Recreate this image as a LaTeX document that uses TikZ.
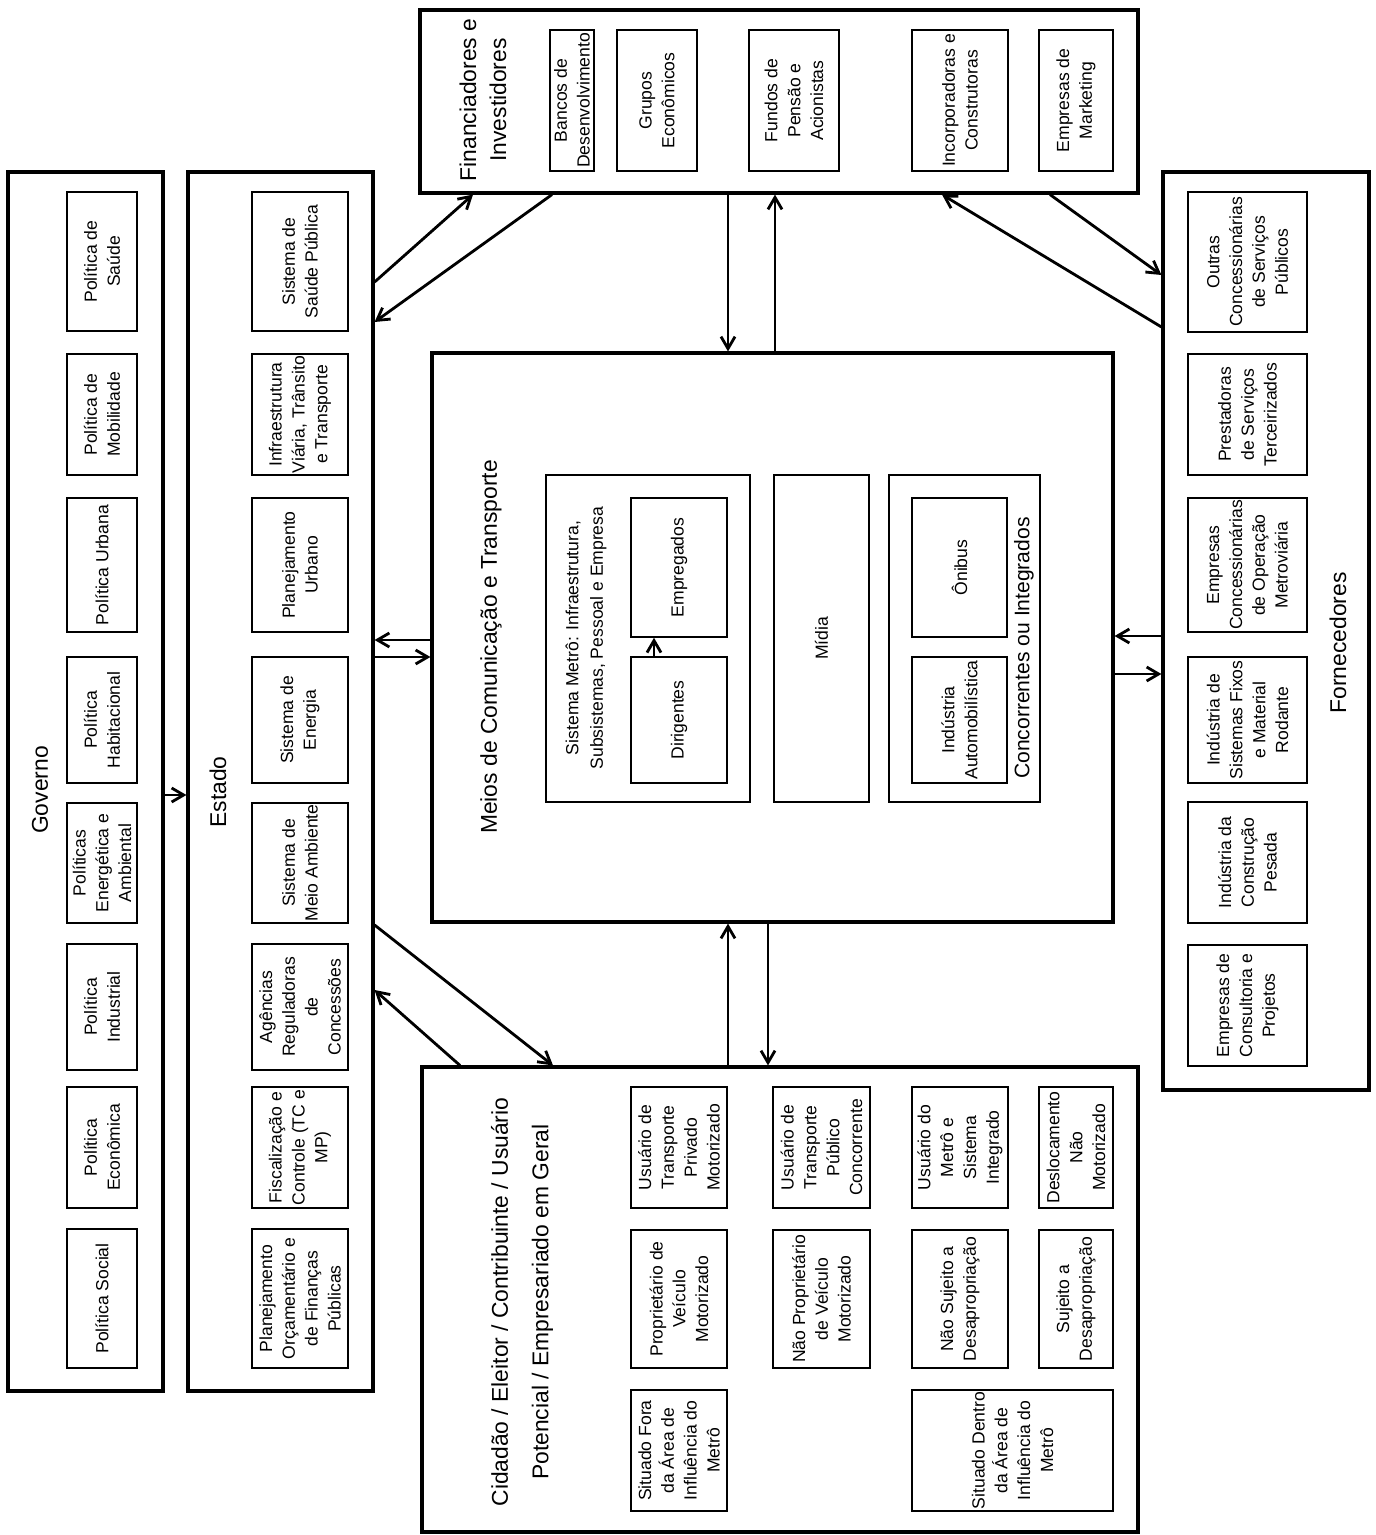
\documentclass[tikz,border=0pt]{standalone}
\usepackage{fontspec}
\setmainfont{Liberation Sans}
\usetikzlibrary{fit, arrows.meta}

\begin{document}
\begin{tikzpicture}[x=0.2mm, y=-0.2mm,
    bigbox/.style={draw, line width=1.8pt, inner sep=0pt},
    sbox/.style={draw, line width=0.9pt, inner sep=0pt},
    txt/.style={rotate=90, align=center, inner sep=0pt, font=\fontsize{10}{13}\selectfont},
    ttl/.style={rotate=90, align=center, font=\fontsize{13}{17}\selectfont},
    arr/.style={-{Straight Barb[length=2.4mm, width=2.8mm]}, line width=1.6pt}]
    \useasboundingbox (0,0) rectangle (1375,1535);

    % Governo
    \node[bigbox, fit={(8,172) (163,1391)}] (gov) {};
    \node[ttl] (govt) at (40,790) {Governo};
    \node[sbox, fit={(67,192) (137,331)}] (g1) {};   \node[txt] at (g1) {Política de\\Saúde};
    \node[sbox, fit={(67,354) (137,475)}] (g2) {};   \node[txt] at (g2) {Política de\\Mobilidade};
    \node[sbox, fit={(67,498) (137,632)}] (g3) {};   \node[txt] at (g3) {Política Urbana};
    \node[sbox, fit={(67,657) (137,783)}] (g4) {};   \node[txt] at (g4) {Política\\Habitacional};
    \node[sbox, fit={(67,803) (137,923)}] (g5) {};   \node[txt] at (g5) {Políticas\\Energética e\\Ambiental};
    \node[sbox, fit={(67,944) (137,1070)}] (g6) {};  \node[txt] at (g6) {Política\\Industrial};
    \node[sbox, fit={(67,1087) (137,1208)}] (g7) {}; \node[txt] at (g7) {Política\\Econômica};
    \node[sbox, fit={(67,1229) (137,1368)}] (g8) {}; \node[txt] at (g8) {Política Social};

    % Estado
    \node[bigbox, fit={(188,172) (373,1391)}] (est) {};
    \node[ttl] (estt) at (218,792) {Estado};
    \node[sbox, fit={(252,192) (348,331)}] (e1) {};   \node[txt] at (e1) {Sistema de\\Saúde Pública};
    \node[sbox, fit={(252,354) (348,475)}] (e2) {};   \node[txt] at (e2) {Infraestrutura\\Viária, Trânsito\\e Transporte};
    \node[sbox, fit={(252,498) (348,632)}] (e3) {};   \node[txt] at (e3) {Planejamento\\Urbano};
    \node[sbox, fit={(252,657) (348,783)}] (e4) {};   \node[txt] at (e4) {Sistema de\\Energia};
    \node[sbox, fit={(252,803) (348,923)}] (e5) {};   \node[txt] at (e5) {Sistema de\\Meio Ambiente};
    \node[sbox, fit={(252,944) (348,1070)}] (e6) {};  \node[txt] at (e6) {Agências\\Reguladoras\\de\\Concessões};
    \node[sbox, fit={(252,1087) (348,1208)}] (e7) {}; \node[txt] at (e7) {Fiscalização e\\Controle (TC e\\MP)};
    \node[sbox, fit={(252,1229) (348,1368)}] (e8) {}; \node[txt] at (e8) {Planejamento\\Orçamentário e\\de Finanças\\Públicas};

    % Financiadores e Investidores
    \node[bigbox, fit={(420,10) (1138,193)}] (fin) {};
    \node[ttl] (fint) at (483,100) {Financiadores e\\Investidores};
    \node[sbox, fit={(550,30) (594,171)}] (f1) {};   \node[txt] at (f1) {Bancos de\\Desenvolvimento};
    \node[sbox, fit={(617,30) (697,171)}] (f2) {};   \node[txt] at (f2) {Grupos\\Econômicos};
    \node[sbox, fit={(749,30) (839,171)}] (f3) {};   \node[txt] at (f3) {Fundos de\\Pensão e\\Acionistas};
    \node[sbox, fit={(912,30) (1008,171)}] (f4) {};  \node[txt] at (f4) {Incorporadoras e\\Construtoras};
    \node[sbox, fit={(1039,30) (1113,171)}] (f5) {}; \node[txt] at (f5) {Empresas de\\Marketing};

    % Fornecedores
    \node[bigbox, fit={(1163,172) (1369,1090)}] (forn) {};
    \node[ttl] (fornt) at (1338,643) {Fornecedores};
    \node[sbox, fit={(1188,192) (1307,332)}] (p1) {};  \node[txt] at (p1) {Outras\\Concessionárias\\de Serviços\\Públicos};
    \node[sbox, fit={(1188,354) (1307,475)}] (p2) {};  \node[txt] at (p2) {Prestadoras\\de Serviços\\Terceirizados};
    \node[sbox, fit={(1188,498) (1307,632)}] (p3) {};  \node[txt] at (p3) {Empresas\\Concessionárias\\de Operação\\Metroviária};
    \node[sbox, fit={(1188,657) (1307,783)}] (p4) {};  \node[txt] at (p4) {Indústria de\\Sistemas Fixos\\e Material\\Rodante};
    \node[sbox, fit={(1188,802) (1307,923)}] (p5) {};  \node[txt] at (p5) {Indústria da\\Construção\\Pesada};
    \node[sbox, fit={(1188,945) (1307,1066)}] (p6) {}; \node[txt] at (p6) {Empresas de\\Consultoria e\\Projetos};

    % Meios de Comunicacao e Transporte
    \node[bigbox, fit={(432,353) (1113,922)}] (meios) {};
    \node[ttl] (meiost) at (491,647) {Meios de Comunicação e Transporte};
    \node[sbox, fit={(546,475) (750,802)}] (metro) {};
    \node[txt, font=\fontsize{10}{14}\selectfont] (metrot) at (586,638)
        {Sistema Metrô: Infraestrutura,\\Subsistemas, Pessoal e Empresa};
    \node[sbox, fit={(631,498) (727,637)}] (emp) {};   \node[txt] at (emp) {Empregados};
    \node[sbox, fit={(631,657) (727,783)}] (dir) {};   \node[txt] at (dir) {Dirigentes};
    \node[sbox, fit={(774,475) (869,802)}] (midia) {}; \node[txt] at (midia) {Mídia};
    \node[sbox, fit={(889,475) (1040,802)}] (conc) {};
    \node[sbox, fit={(912,498) (1007,637)}] (onib) {}; \node[txt] at (onib) {Ônibus};
    \node[sbox, fit={(912,657) (1007,783)}] (auto) {}; \node[txt] at (auto) {Indústria\\Automobilística};
    \node[rotate=90, font=\fontsize{12}{14}\selectfont] (conct) at (1024,648) {Concorrentes ou Integrados};

    % Cidadao
    \node[bigbox, fit={(422,1067) (1138,1532)}] (cid) {};
    \node[ttl, font=\fontsize{13}{23}\selectfont] (cidt) at (522,1302)
        {Cidadão / Eleitor / Contribuinte / Usuário\\Potencial / Empresariado em Geral};
    \node[sbox, fit={(631,1087) (727,1208)}] (c1) {};   \node[txt] at (c1) {Usuário de\\Transporte\\Privado\\Motorizado};
    \node[sbox, fit={(631,1230) (727,1368)}] (c2) {};   \node[txt] at (c2) {Proprietário de\\Veículo\\Motorizado};
    \node[sbox, fit={(631,1390) (727,1511)}] (c3) {};   \node[txt] at (c3) {Situado Fora\\da Área de\\Influência do\\Metrô};
    \node[sbox, fit={(773,1087) (870,1208)}] (c4) {};   \node[txt] at (c4) {Usuário de\\Transporte\\Público\\Concorrente};
    \node[sbox, fit={(773,1230) (870,1368)}] (c5) {};   \node[txt] at (c5) {Não Proprietário\\de Veículo\\Motorizado};
    \node[sbox, fit={(912,1087) (1008,1208)}] (c6) {};  \node[txt] at (c6) {Usuário do\\Metrô e\\Sistema\\Integrado};
    \node[sbox, fit={(912,1230) (1008,1368)}] (c7) {};  \node[txt] at (c7) {Não Sujeito a\\Desapropriação};
    \node[sbox, fit={(1039,1087) (1113,1208)}] (c8) {}; \node[txt] at (c8) {Deslocamento\\Não\\Motorizado};
    \node[sbox, fit={(1039,1230) (1113,1368)}] (c9) {}; \node[txt] at (c9) {Sujeito a\\Desapropriação};
    \node[sbox, fit={(912,1390) (1113,1511)}] (c10) {}; \node[txt] at (c10) {Situado Dentro\\da Área de\\Influência do\\Metrô};

    \draw[arr] (gov.east |- 0,795) -- (est.west |- 0,795);
    \draw[arr] (est.east |- 0,282) -- (fin.south -| 473,0);
    \draw[arr] (fin.south -| 552,0) -- (est.east |- 0,322);
    \draw[arr] (fin.south -| 728,0) -- (meios.north -| 728,0);
    \draw[arr] (meios.north -| 775,0) -- (fin.south -| 775,0);
    \draw[arr] (fin.south -| 1050,0) -- (forn.west |- 0,275);
    \draw[arr] (forn.west |- 0,327) -- (fin.south -| 942,0);
    \draw[arr] (meios.west |- 0,640) -- (est.east |- 0,640);
    \draw[arr] (est.east |- 0,657) -- (meios.west |- 0,657);
    \draw[arr] (forn.west |- 0,636) -- (meios.east |- 0,636);
    \draw[arr] (meios.east |- 0,674) -- (forn.west |- 0,674);
    \draw[arr] (cid.north -| 728,0) -- (meios.south -| 728,0);
    \draw[arr] (meios.south -| 768,0) -- (cid.north -| 768,0);
    \draw[arr] (est.east |- 0,925) -- (cid.north -| 553,0);
    \draw[arr] (cid.north -| 460,0) -- (est.east |- 0,990);
    \draw[arr] (dir.north -| 654,0) -- (emp.south -| 654,0);
\end{tikzpicture}
\end{document}
